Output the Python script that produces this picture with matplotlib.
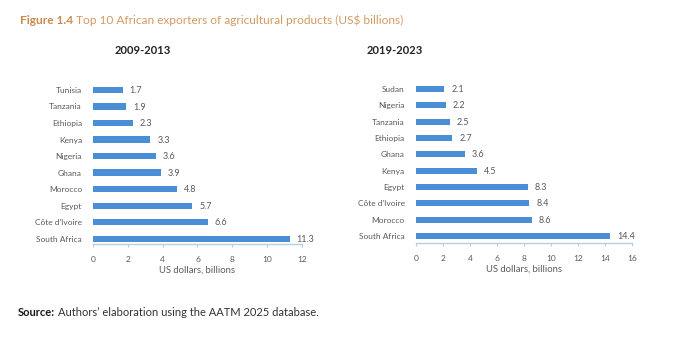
import matplotlib
matplotlib.use("Agg")
import matplotlib.pyplot as plt

# Top 10 exporters, listed bottom (largest) to top
countries_2009 = ["South Africa", "Côte d'Ivoire", "Egypt", "Morocco", "Ghana",
                  "Nigeria", "Kenya", "Ethiopia", "Tanzania", "Tunisia"]
values_2009 = [11.3, 6.6, 5.7, 4.8, 3.9, 3.6, 3.3, 2.3, 1.9, 1.7]

countries_2019 = ["South Africa", "Morocco", "Côte d'Ivoire", "Egypt", "Kenya",
                  "Ghana", "Ethiopia", "Tanzania", "Nigeria", "Sudan"]
values_2019 = [14.4, 8.6, 8.4, 8.3, 4.5, 3.6, 2.7, 2.5, 2.2, 2.1]

ticks_2009 = [0, 2, 4, 6, 8, 10, 12]
ticks_2019 = [0, 2, 4, 6, 8, 10, 12, 14, 16]

BAR = "#4a8fd6"
TXT = "#5a5a5a"
SPINE = "#b9cde3"

plt.rcParams["font.family"] = ["Lato", "DejaVu Sans"]

fig = plt.figure(figsize=(6.73, 3.42), dpi=100)
fig.patch.set_facecolor("white")


def panel(rect, names, vals, ticks, ybot):
    ax = fig.add_axes(rect)
    ys = range(len(vals))
    ax.barh(ys, vals, height=0.38, color=BAR)
    ax.set_ylim(ybot, len(vals) - 0.5)
    ax.set_xlim(ticks[0], ticks[-1])
    ax.set_yticks(list(ys))
    ax.set_yticklabels(names, fontsize=6.0, color=TXT)
    ax.set_xticks(ticks)
    ax.set_xticklabels([str(t) for t in ticks], fontsize=6.0, color=TXT)
    ax.tick_params(axis="y", length=0, pad=8)
    ax.tick_params(axis="x", length=2.5, color=SPINE, pad=6)
    for s in ("top", "right", "left"):
        ax.spines[s].set_visible(False)
    ax.spines["bottom"].set_color(SPINE)
    ax.spines["bottom"].set_linewidth(1.0)
    for y, v in zip(ys, vals):
        ax.annotate(f"{v:.1f}", (v, y), xytext=(5, -0.5), textcoords="offset points",
                    va="center", ha="left", fontsize=6.5, color=TXT)
    ax.set_xlabel("US dollars, billions", fontsize=6.8, color=TXT, labelpad=2)
    ax.set_facecolor("white")
    return ax


panel([0.1382, 0.2865, 0.3105, 0.4746], countries_2009, values_2009, ticks_2009, -0.32)
panel([0.6181, 0.2895, 0.3210, 0.4743], countries_2019, values_2019, ticks_2019, -0.43)

renderer = fig.canvas.get_renderer()


def run_on(first, rest, x, y, size, c1, c2, gap_px=3):
    """Draw a bold lead-in followed directly by regular text."""
    t1 = fig.text(x, y, first, fontsize=size, fontweight="bold", color=c1,
                  ha="left", va="center")
    bb = t1.get_window_extent(renderer)
    x2 = (bb.x1 + gap_px) / fig.bbox.width
    fig.text(x2, y, rest, fontsize=size, color=c2, ha="left", va="center")


run_on("Figure 1.4", "Top 10 African exporters of agricultural products (US$ billions)",
       0.029, 0.94, 8.6, "#c98a4b", "#d29a62")

fig.text(0.212, 0.853, "2009-2013", fontsize=8, fontweight="bold", color="#222222",
         ha="center", va="center")
fig.text(0.586, 0.853, "2019-2023", fontsize=8, fontweight="bold", color="#222222",
         ha="center", va="center")

run_on("Source:", "Authors\u2019 elaboration using the AATM 2025 database.",
       0.026, 0.085, 8.0, "#1a1a1a", "#333333")

fig.savefig("out.png", dpi=100, facecolor="white")
